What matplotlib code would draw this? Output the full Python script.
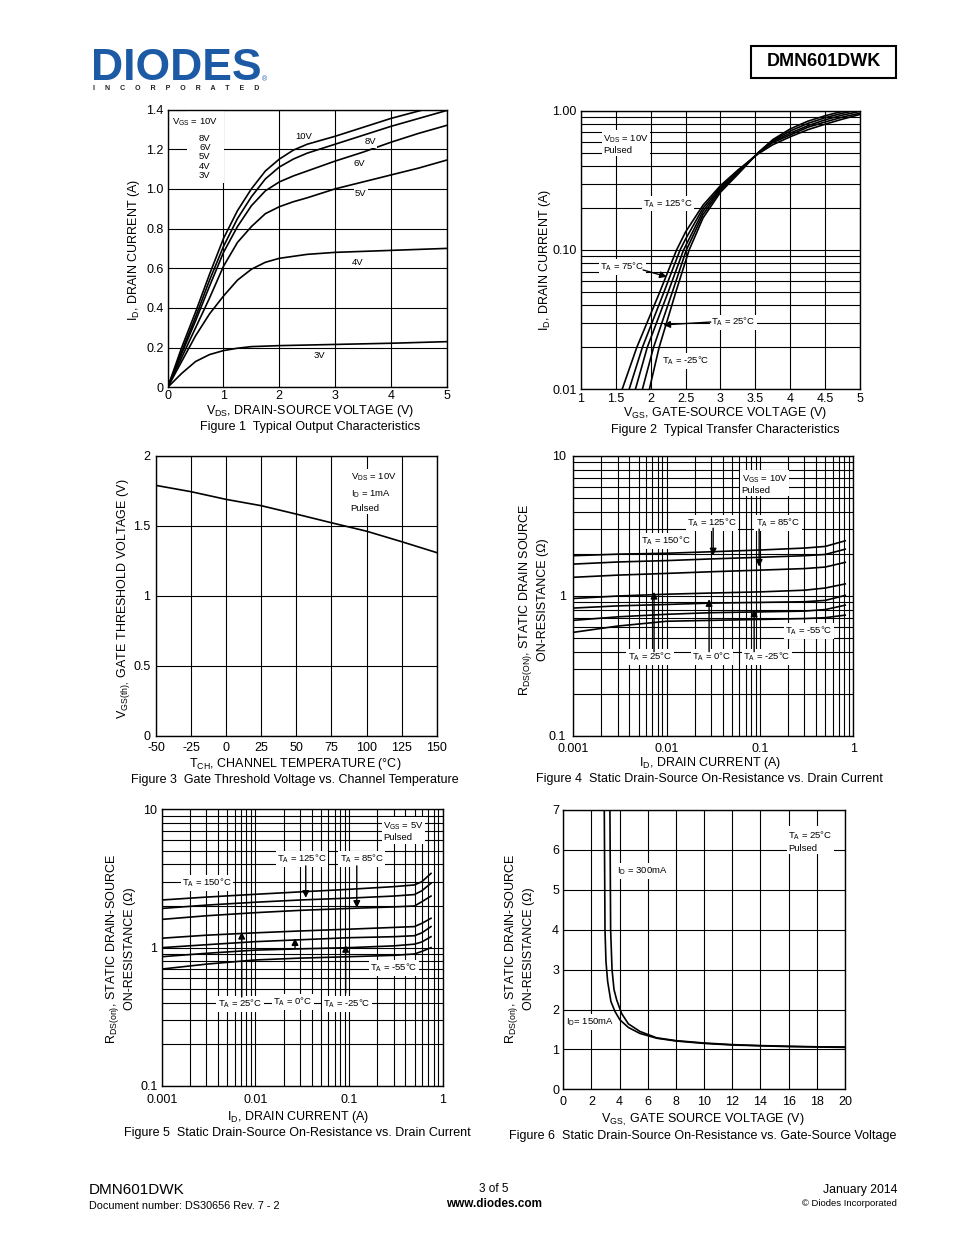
import matplotlib
matplotlib.use('Agg')
import matplotlib.pyplot as plt
import numpy as np
from matplotlib.ticker import LogLocator, NullFormatter
from matplotlib.patches import Rectangle
from matplotlib.lines import Line2D

plt.rcParams['font.family'] = ['Liberation Sans', 'DejaVu Sans']
plt.rcParams['mathtext.fontset'] = 'custom'
plt.rcParams['mathtext.rm'] = 'Liberation Sans'
plt.rcParams['mathtext.it'] = 'Liberation Sans:italic'
plt.rcParams['mathtext.bf'] = 'Liberation Sans:bold'
plt.rcParams['axes.unicode_minus'] = False

# ---------------- data ----------------
# Figure 1: output characteristics
f1_x10 = [0, 0.25, 0.5, 0.75, 1.0, 1.25, 1.5, 1.75, 2.0, 2.25, 2.5, 3.0, 3.5, 4.0, 4.6]
f1_y10 = [0, 0.20, 0.38, 0.57, 0.75, 0.89, 1.00, 1.09, 1.15, 1.195, 1.225, 1.265, 1.31, 1.355, 1.40]
f1_x = [0, 0.25, 0.5, 0.75, 1.0, 1.25, 1.5, 1.75, 2.0, 2.25, 2.5, 3.0, 3.5, 4.0, 4.5, 5.0]
f1_y8 = [0, 0.18, 0.355, 0.54, 0.71, 0.85, 0.96, 1.05, 1.11, 1.15, 1.18, 1.225, 1.27, 1.315, 1.355, 1.395]
f1_y6 = [0, 0.17, 0.335, 0.51, 0.68, 0.81, 0.915, 0.99, 1.035, 1.065, 1.09, 1.14, 1.185, 1.235, 1.28, 1.32]
f1_y5 = [0, 0.15, 0.30, 0.45, 0.61, 0.73, 0.81, 0.875, 0.91, 0.935, 0.955, 1.0, 1.035, 1.07, 1.105, 1.145]
f1_x4 = [0, 0.25, 0.5, 0.75, 1.0, 1.25, 1.5, 1.75, 2.0, 2.5, 3.0, 3.5, 4.0, 4.5, 5.0]
f1_y4 = [0, 0.13, 0.26, 0.37, 0.46, 0.54, 0.595, 0.63, 0.65, 0.67, 0.68, 0.685, 0.69, 0.695, 0.70]
f1_x3 = [0, 0.25, 0.5, 0.75, 1.0, 1.25, 1.5, 2.0, 2.5, 3.0, 4.0, 5.0]
f1_y3 = [0, 0.07, 0.13, 0.165, 0.185, 0.197, 0.205, 0.21, 0.213, 0.216, 0.222, 0.23]

# Figure 2: transfer characteristics (5 temperatures)
f2_v1 = [1.59, 1.80, 2.13, 2.37, 2.50, 2.75, 3.0, 3.25, 3.54, 3.75, 4.0, 4.25, 4.5, 4.75, 5.0]
f2_i1 = [0.01, 0.02, 0.05, 0.10, 0.135, 0.21, 0.29, 0.375, 0.49, 0.57, 0.65, 0.73, 0.80, 0.87, 0.94]
f2_v2 = [1.69, 1.88, 2.19, 2.42, 2.50, 2.75, 3.0, 3.25, 3.54, 3.75, 4.0, 4.25, 4.5, 4.75, 5.0]
f2_i2 = [0.01, 0.02, 0.05, 0.10, 0.12, 0.20, 0.282, 0.37, 0.495, 0.59, 0.67, 0.76, 0.83, 0.90, 0.96]
f2_v3 = [1.78, 1.95, 2.25, 2.47, 2.75, 3.0, 3.25, 3.54, 3.75, 4.0, 4.25, 4.5, 4.75, 5.0]
f2_i3 = [0.01, 0.02, 0.05, 0.10, 0.19, 0.275, 0.36, 0.497, 0.60, 0.69, 0.78, 0.86, 0.93, 0.99]
f2_v4 = [1.88, 2.04, 2.31, 2.51, 2.75, 3.0, 3.25, 3.54, 3.75, 4.0, 4.25, 4.5, 4.75, 5.0]
f2_i4 = [0.01, 0.02, 0.05, 0.10, 0.18, 0.268, 0.355, 0.50, 0.61, 0.715, 0.81, 0.89, 0.96, 1.02]
f2_v5 = [1.98, 2.12, 2.36, 2.55, 2.75, 3.0, 3.25, 3.54, 3.75, 4.0, 4.25, 4.5, 4.75, 5.0]
f2_i5 = [0.01, 0.02, 0.05, 0.10, 0.17, 0.26, 0.35, 0.50, 0.62, 0.74, 0.84, 0.92, 0.99, 1.04]

# Figure 3: threshold voltage vs temperature
f3_t = [-50, -25, 0, 25, 50, 75, 100, 125, 150]
f3_v = [1.79, 1.745, 1.69, 1.645, 1.585, 1.523, 1.463, 1.388, 1.31]

# Figure 4: RDS(on) vs ID, VGS = 10V
f4_i = [0.001, 0.003, 0.01, 0.03, 0.1, 0.3, 0.5, 0.82]
f4_r150 = [1.94, 1.99, 2.02, 2.07, 2.13, 2.20, 2.26, 2.48]
f4_r125 = [1.69, 1.75, 1.79, 1.84, 1.89, 1.94, 1.98, 2.16]
f4_r85 = [1.36, 1.41, 1.45, 1.49, 1.53, 1.57, 1.61, 1.74]
f4_r25 = [0.96, 1.00, 1.03, 1.05, 1.07, 1.10, 1.14, 1.22]
f4_r0 = [0.82, 0.85, 0.87, 0.89, 0.90, 0.91, 0.93, 1.01]
f4_rm25 = [0.67, 0.71, 0.74, 0.76, 0.77, 0.78, 0.80, 0.86]
f4_rm55 = [0.55, 0.61, 0.66, 0.67, 0.68, 0.69, 0.70, 0.73]

# Figure 5: RDS(on) vs ID, VGS = 5V
f5_i = [0.001, 0.003, 0.01, 0.03, 0.1, 0.3, 0.5, 0.6, 0.75]
f5_r150 = [2.21, 2.32, 2.43, 2.53, 2.64, 2.76, 2.84, 3.00, 3.44]
f5_r125 = [1.92, 2.03, 2.13, 2.21, 2.28, 2.36, 2.42, 2.58, 2.92]
f5_r85 = [1.60, 1.70, 1.79, 1.86, 1.92, 1.97, 2.00, 2.15, 2.36]
f5_r25 = [1.17, 1.23, 1.28, 1.32, 1.36, 1.40, 1.42, 1.50, 1.63]
f5_r0 = [1.00, 1.05, 1.105, 1.14, 1.18, 1.20, 1.22, 1.28, 1.42]
f5_rm25 = [0.86, 0.91, 0.96, 0.98, 1.00, 1.03, 1.06, 1.10, 1.20]
f5_rm55 = [0.70, 0.76, 0.815, 0.84, 0.86, 0.88, 0.90, 0.94, 1.00]

# Figure 6: RDS(on) vs VGS
f6_v150 = [2.91, 2.96, 3.03, 3.15, 3.38, 3.67, 4.02, 4.62, 5.44, 6.63, 8, 10, 12, 14, 16, 18, 20]
f6_r150 = [7.0, 4.0, 3.2, 2.7, 2.2, 1.95, 1.74, 1.55, 1.40, 1.28, 1.21, 1.15, 1.11, 1.09, 1.07, 1.06, 1.05]
f6_v300 = [3.31, 3.36, 3.46, 3.60, 3.79, 4.14, 4.62, 5.44, 6.63, 8, 10, 12, 14, 16, 18, 20]
f6_r300 = [7.0, 4.0, 3.0, 2.5, 2.24, 1.90, 1.64, 1.45, 1.29, 1.22, 1.16, 1.12, 1.095, 1.08, 1.065, 1.06]

# tick labels
f1_xt = [0, 1, 2, 3, 4, 5]
f1_yt = [0, 0.2, 0.4, 0.6, 0.8, 1.0, 1.2, 1.4]
f1_ytl = ['0', '0.2', '0.4', '0.6', '0.8', '1.0', '1.2', '1.4']
f2_xt = [1, 1.5, 2, 2.5, 3, 3.5, 4, 4.5, 5]
f2_xtl = ['1', '1.5', '2', '2.5', '3', '3.5', '4', '4.5', '5']
f2_yt = [0.01, 0.1, 1.0]
f2_ytl = ['0.01', '0.10', '1.00']
f3_xt = [-50, -25, 0, 25, 50, 75, 100, 125, 150]
f3_yt = [0, 0.5, 1, 1.5, 2]
f3_ytl = ['0', '0.5', '1', '1.5', '2']
log_xt = [0.001, 0.01, 0.1, 1]
log_xtl = ['0.001', '0.01', '0.1', '1']
log_yt = [0.1, 1, 10]
log_ytl = ['0.1', '1', '10']
f6_xt = list(range(0, 21, 2))
f6_yt = list(range(0, 8))

# ---------------- figure ----------------
W, H = 954, 1235
fig = plt.figure(figsize=(W / 100, H / 100), dpi=100)

TICK_FS = 9
LAB_FS = 9
ANN_FS = 6.8
LW = 1.2
GLW = 0.8
BOX = dict(facecolor='white', edgecolor='none', pad=1.0)


def fy(y):
    return 1 - y / H


def add_ax(l, t, r, b, xpad=3, ypad=3):
    ax = fig.add_axes([l / W, 1 - b / H, (r - l) / W, (b - t) / H])
    ax.set_axisbelow(True)
    for s in ax.spines.values():
        s.set_linewidth(1.0)
        s.set_color('k')
        s.set_zorder(5)
    ax.tick_params(which='both', length=0, labelsize=TICK_FS)
    ax.tick_params(axis='x', pad=xpad)
    ax.tick_params(axis='y', pad=ypad)
    return ax


def ftext(x, y, s, **kw):
    kw.setdefault('fontsize', LAB_FS)
    kw.setdefault('ha', 'center')
    kw.setdefault('va', 'center')
    fig.text(x / W, fy(y), s, **kw)


def arrow(ax, start, tip):
    ax.annotate('', xy=tip, xytext=start,
                arrowprops=dict(arrowstyle='-|>', color='k', lw=1.0,
                                mutation_scale=10, shrinkA=0, shrinkB=0),
                zorder=4)


def ann(ax, x, y, s, ha='center', **kw):
    ax.text(x, y, s, fontsize=ANN_FS, ha=ha, va='center', bbox=BOX, zorder=3, **kw)


TA = r'T$_\mathrm{A}$ = '

# ---- Figure 1 ----
ax1 = add_ax(167.7, 109.5, 446.7, 387.3, xpad=2)
ax1.set_xlim(0, 5)
ax1.set_ylim(0, 1.4)
ax1.set_xticks(f1_xt)
ax1.set_yticks(f1_yt)
ax1.set_yticklabels(f1_ytl)
ax1.grid(True, color='k', lw=GLW)
ax1.plot(f1_x10, f1_y10, 'k', lw=LW)
ax1.plot(f1_x, f1_y8, 'k', lw=LW)
ax1.plot(f1_x, f1_y6, 'k', lw=LW)
ax1.plot(f1_x, f1_y5, 'k', lw=LW)
ax1.plot(f1_x4, f1_y4, 'k', lw=LW)
ax1.plot(f1_x3, f1_y3, 'k', lw=LW)
ax1.text(0.08, 1.338, r'V$_\mathrm{GS}$ = 10V', fontsize=ANN_FS, ha='left', va='center', zorder=3)
ax1.text(0.77, 1.162, '8V\n6V\n5V\n4V\n3V', fontsize=ANN_FS, ha='right', va='center',
         linespacing=1.05, zorder=3, bbox=dict(facecolor='white', edgecolor='none', pad=2.5))
ax1.add_patch(Rectangle((0.35, 1.03), 0.66, 0.37, facecolor='white', edgecolor='none', zorder=1.5))
for xx, yy, s in [(2.43, 1.266, '10V'), (3.63, 1.237, '8V'), (3.43, 1.128, '6V'),
                  (3.46, 0.977, '5V'), (3.41, 0.63, '4V'), (2.71, 0.158, '3V')]:
    ann(ax1, xx, yy, s)
ftext(310, 411, r'V$_\mathrm{DS}$, DRAIN-SOURCE VOLTAGE (V)')
ftext(310, 427, 'Figure 1  Typical Output Characteristics')
ftext(134, 250, r'I$_\mathrm{D}$, DRAIN CURRENT (A)', rotation=90)

# ---- Figure 2 ----
ax2 = add_ax(581, 110.7, 860, 389.3, xpad=3)
ax2.set_yscale('log')
ax2.set_xlim(1, 5)
ax2.set_ylim(0.01, 1.0)
ax2.set_xticks(f2_xt)
ax2.set_xticklabels(f2_xtl)
ax2.set_yticks(f2_yt)
ax2.set_yticklabels(f2_ytl)
ax2.yaxis.set_minor_locator(LogLocator(base=10, subs=np.arange(2, 10)))
ax2.yaxis.set_minor_formatter(NullFormatter())
ax2.grid(True, which='major', color='k', lw=GLW)
ax2.grid(True, which='minor', axis='y', color='k', lw=GLW)
for v, i in [(f2_v1, f2_i1), (f2_v2, f2_i2), (f2_v3, f2_i3), (f2_v4, f2_i4), (f2_v5, f2_i5)]:
    ax2.plot(v, i, 'k', lw=LW, solid_joinstyle='round')
ann(ax2, 1.32, 0.577, r'V$_\mathrm{DS}$ = 10V' + '\nPulsed', ha='left', linespacing=1.2)
ann(ax2, 2.25, 0.216, TA + '125°C')
ann(ax2, 1.595, 0.0755, TA + '75°C')
ann(ax2, 3.18, 0.0303, TA + '25°C')
ann(ax2, 2.505, 0.016, TA + '-25°C')
arrow(ax2, (1.89, 0.0719), (2.23, 0.0643))
arrow(ax2, (2.86, 0.0304), (2.18, 0.029))
ftext(725, 413, r'V$_\mathrm{GS}$, GATE-SOURCE VOLTAGE (V)')
ftext(725, 430, 'Figure 2  Typical Transfer Characteristics')
ftext(545, 260, r'I$_\mathrm{D}$, DRAIN CURRENT (A)', rotation=90)

# ---- Figure 3 ----
ax3 = add_ax(156, 456, 436.7, 736, xpad=4, ypad=4)
ax3.set_xlim(-50, 150)
ax3.set_ylim(0, 2)
ax3.set_xticks(f3_xt)
ax3.set_yticks(f3_yt)
ax3.set_yticklabels(f3_ytl)
ax3.grid(True, color='k', lw=GLW)
ax3.plot(f3_t, f3_v, 'k', lw=LW)
ann(ax3, 88.7, 1.74, r'V$_\mathrm{DS}$ = 10V' + '\n' + r'I$_\mathrm{D}$ = 1mA' + '\nPulsed',
    ha='left', linespacing=1.5)
ftext(295, 764, r'T$_\mathrm{CH}$, CHANNEL TEMPERATURE (°C)')
ftext(295, 780, 'Figure 3  Gate Threshold Voltage vs. Channel Temperature')
ftext(124, 599, r'V$_\mathrm{GS(th),}$ GATE THRESHOLD VOLTAGE (V)', rotation=90)


def log_ax(ax):
    ax.set_xscale('log')
    ax.set_yscale('log')
    ax.set_xlim(0.001, 1)
    ax.set_ylim(0.1, 10)
    ax.set_xticks(log_xt)
    ax.set_xticklabels(log_xtl)
    ax.set_yticks(log_yt)
    ax.set_yticklabels(log_ytl)
    for a in (ax.xaxis, ax.yaxis):
        a.set_minor_locator(LogLocator(base=10, subs=np.arange(2, 10)))
        a.set_minor_formatter(NullFormatter())
    ax.grid(True, which='both', color='k', lw=GLW)


# ---- Figure 4 ----
ax4 = add_ax(573.3, 456, 853.3, 736, xpad=5, ypad=5)
log_ax(ax4)
for r in [f4_r150, f4_r125, f4_r85, f4_r25, f4_r0, f4_rm25, f4_rm55]:
    ax4.plot(f4_i, r, 'k', lw=LW)
ann(ax4, 0.0638, 6.3, r'V$_\mathrm{GS}$ = 10V' + '\nPulsed', ha='left', linespacing=1.2)
ann(ax4, 0.0306, 3.32, TA + '125°C')
ann(ax4, 0.156, 3.32, TA + '85°C')
ann(ax4, 0.00985, 2.47, TA + '150°C')
ann(ax4, 0.00664, 0.367, TA + '25°C')
ann(ax4, 0.0306, 0.367, TA + '0°C')
ann(ax4, 0.119, 0.367, TA + '-25°C')
ann(ax4, 0.335, 0.562, TA + '-55°C')
arrow(ax4, (0.0315, 3.05), (0.0315, 1.95))
arrow(ax4, (0.098, 3.0), (0.098, 1.62))
arrow(ax4, (0.00733, 0.40), (0.00733, 1.07))
arrow(ax4, (0.0285, 0.40), (0.0285, 0.95))
arrow(ax4, (0.0866, 0.40), (0.0866, 0.80))
ftext(710, 763, r'I$_\mathrm{D}$, DRAIN CURRENT (A)')
ftext(709, 779, 'Figure 4  Static Drain-Source On-Resistance vs. Drain Current')
ftext(533, 600, r'R$_\mathrm{DS(ON)}$, STATIC DRAIN SOURCE' + '\nON-RESISTANCE (Ω)',
      rotation=90, linespacing=1.4, multialignment='center')

# ---- Figure 5 ----
ax5 = add_ax(161.7, 809.3, 442.7, 1086, xpad=5.5)
log_ax(ax5)
for r in [f5_r150, f5_r125, f5_r85, f5_r25, f5_r0, f5_rm25, f5_rm55]:
    ax5.plot(f5_i, r, 'k', lw=LW)
ann(ax5, 0.232, 6.95, r'V$_\mathrm{GS}$ = 5V' + '\nPulsed', ha='left', linespacing=1.2)
ann(ax5, 0.0315, 4.38, TA + '125°C')
ann(ax5, 0.137, 4.38, TA + '85°C')
ann(ax5, 0.00305, 2.94, TA + '150°C')
ann(ax5, 0.00686, 0.392, TA + '25°C')
ann(ax5, 0.0252, 0.405, TA + '0°C')
ann(ax5, 0.0955, 0.392, TA + '-25°C')
ann(ax5, 0.301, 0.713, TA + '-55°C')
arrow(ax5, (0.0345, 3.9), (0.0345, 2.29))
arrow(ax5, (0.121, 3.9), (0.121, 1.94))
arrow(ax5, (0.00715, 0.44), (0.00715, 1.30))
arrow(ax5, (0.0265, 1.0), (0.0265, 1.17))
arrow(ax5, (0.092, 0.47), (0.092, 1.045))
ftext(298, 1117, r'I$_\mathrm{D}$, DRAIN CURRENT (A)')
ftext(297, 1133, 'Figure 5  Static Drain-Source On-Resistance vs. Drain Current')
ftext(120, 949, r'R$_\mathrm{DS(on)}$, STATIC DRAIN-SOURCE' + '\nON-RESISTANCE (Ω)',
      rotation=90, linespacing=1.4, multialignment='center')

# ---- Figure 6 ----
ax6 = add_ax(563.3, 810, 845, 1089.3, xpad=4.5)
ax6.set_xlim(0, 20)
ax6.set_ylim(0, 7)
ax6.set_xticks(f6_xt)
ax6.set_yticks(f6_yt)
ax6.grid(True, color='k', lw=GLW)
ax6.plot(f6_v150, f6_r150, 'k', lw=LW)
ax6.plot(f6_v300, f6_r300, 'k', lw=LW)
ann(ax6, 15.97, 6.22, TA + '25°C\nPulsed', ha='left', linespacing=1.3)
ann(ax6, 3.79, 5.47, r'I$_\mathrm{D}$ = 300mA', ha='left')
ann(ax6, 0.19, 1.69, r'I$_\mathrm{D}$= 150mA', ha='left')
ftext(703, 1120, r'V$_\mathrm{GS,}$ GATE SOURCE VOLTAGE (V)')
ftext(703, 1136, 'Figure 6  Static Drain-Source On-Resistance vs. Gate-Source Voltage')
ftext(519, 949, r'R$_\mathrm{DS(on)}$, STATIC DRAIN-SOURCE' + '\nON-RESISTANCE (Ω)',
      rotation=90, linespacing=1.4, multialignment='center')

# ---- header ----
BLUE = '#1d5aa5'
fig.text(91 / W, fy(80), 'DIODES', fontsize=32, fontweight='bold', color=BLUE,
         ha='left', va='baseline')
fig.add_artist(Line2D([91 / W, 258 / W], [fy(66), fy(66)], color='white', lw=1.0))
fig.text(262 / W, fy(80), '®', fontsize=5, color=BLUE, ha='left', va='center')
fig.text(93 / W, fy(89), 'I     N     C     O     R     P     O     R     A     T     E     D',
         fontsize=5, fontweight='bold', color='#222222', ha='left', va='center')
fig.add_artist(Rectangle((751 / W, fy(78)), (896 - 751) / W, (78 - 46) / H,
                         transform=fig.transFigure, fill=False, lw=1.5, ec='k'))
ftext(824, 62, 'DMN601DWK', fontsize=13, fontweight='bold')

# ---- footer ----
fig.text(89 / W, fy(1190), 'DMN601DWK', fontsize=11, ha='left', va='center')
fig.text(89 / W, fy(1206), 'Document number: DS30656 Rev. 7 - 2', fontsize=7.8, ha='left', va='center')
ftext(494, 1189, '3 of 5', fontsize=8.5)
ftext(494, 1204, 'www.diodes.com', fontsize=8.5, fontweight='bold')
fig.text(897 / W, fy(1190), 'January 2014', fontsize=8.8, ha='right', va='center')
fig.text(897 / W, fy(1204), '© Diodes Incorporated', fontsize=6.8, ha='right', va='center')

fig.savefig('out.png', dpi=100, facecolor='white')
